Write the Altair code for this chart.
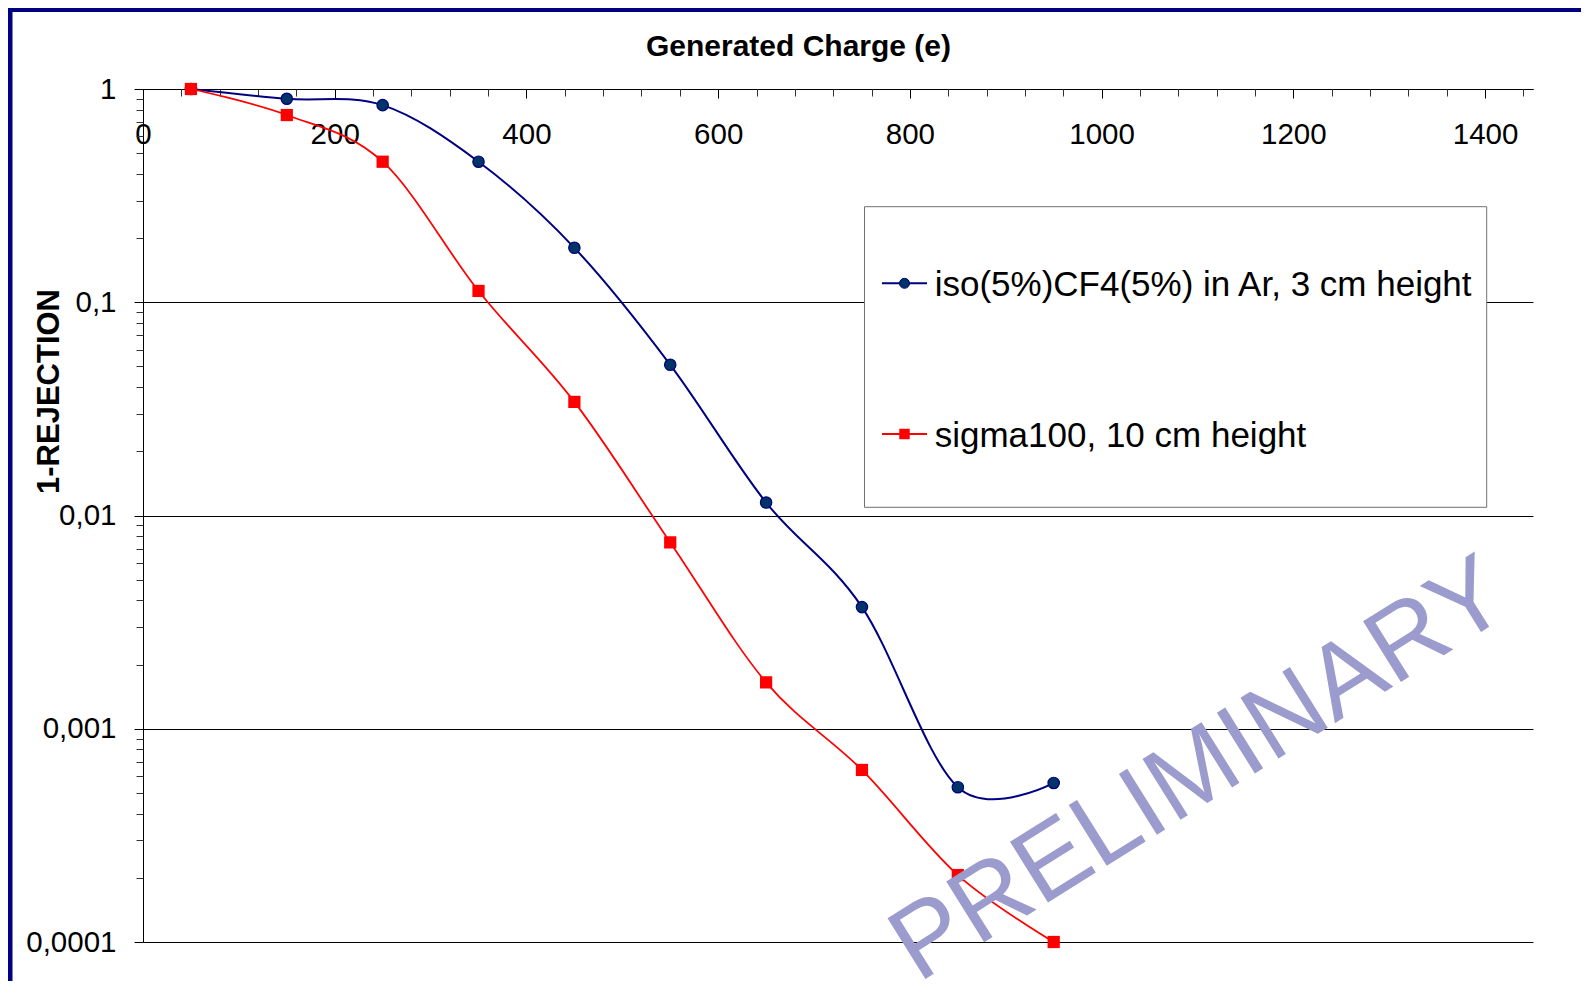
import altair as alt
import pandas as pd

# ---------------- data ----------------
charge = [50, 150, 250, 350, 450, 550, 650, 750, 850, 950]
iso_cf4 = [1.0, 0.90, 0.84, 0.456, 0.180, 0.0509, 0.0115, 0.00372, 0.000532, 0.000557]
sigma100 = [1.0, 0.755, 0.456, 0.113, 0.0341, 0.00748, 0.00165, 0.000641, 0.000206, 0.0001]
series_names = ["iso(5%)CF4(5%) in Ar, 3 cm height", "sigma100, 10 cm height"]
line_colors = ["#000080", "#FF0000"]
marker_fill = ["#003366", "#FF0000"]
marker_shapes = ["circle", "square"]

x_major_ticks = [0, 200, 400, 600, 800, 1000, 1200, 1400]
x_minor_ticks = [v for v in range(40, 1441, 40) if v % 200]
y_major_ticks = [1, 0.1, 0.01, 0.001, 0.0001]
y_tick_labels = ["1", "0,1", "0,01", "0,001", "0,0001"]
y_minor_ticks = [m * 10.0 ** e for e in range(-4, 0) for m in range(2, 10)]

x_title = "Generated Charge (e)"
y_title = "1-REJECTION"
watermark = "PRELIMINARY"

df = pd.DataFrame({
    "charge": charge * 2,
    "value": iso_cf4 + sigma100,
    "series": [series_names[0]] * len(charge) + [series_names[1]] * len(charge),
})

FONT = "Liberation Sans"
W, H = 1390, 853

x_scale = alt.Scale(domain=[0, 1450], nice=False, zero=False)
y_scale = alt.Scale(type="log", domain=[0.0001, 1], nice=False)

label_expr = "[" + ",".join("'%s'" % s for s in y_tick_labels) + "][indexof([" + \
    ",".join(repr(v) for v in y_major_ticks) + "], datum.value)]"

x_major_axis = alt.Axis(
    orient="bottom", offset=-H, values=x_major_ticks, tickSize=9, tickColor="black",
    tickWidth=1, domainColor="black", domainWidth=1, labelFontSize=29.5, labelFont=FONT,
    labelColor="black", labelBaseline="middle", labelPadding=36.5, labelFlush=False,
    labelOverlap=False, grid=False, title=None, format="d",
)
x_minor_axis = alt.Axis(
    orient="bottom", offset=-H, values=x_minor_ticks, tickSize=7, tickColor="#333333",
    tickWidth=1, domain=False, labels=False, grid=False, title=None,
)
y_major_axis = alt.Axis(
    orient="left", values=y_major_ticks, tickSize=9, tickColor="black", tickWidth=1,
    domainColor="black", domainWidth=1, labelFontSize=29.5, labelFont=FONT,
    labelColor="black", labelPadding=18, labelFlush=False, labelOverlap=False,
    labelExpr=label_expr, grid=True, gridColor="black", gridWidth=1, gridOpacity=1,
    title=y_title, titleFont=FONT, titleFontSize=31, titleFontWeight="bold",
    titleColor="black", titleAngle=270, titleX=-84.5, titleY=302, titleAlign="center",
    titleBaseline="alphabetic",
)
y_minor_axis = alt.Axis(
    orient="left", values=y_minor_ticks, tickSize=7, tickColor="#333333", tickWidth=1,
    domain=False, labels=False, grid=False, title=None,
)

layers = []
line_widths = [2, 1.75]
for i, name in enumerate(series_names):
    sub = alt.Chart(df).transform_filter(alt.datum.series == name)
    layers.append(
        sub.mark_line(interpolate="cardinal", tension=0, color=line_colors[i],
                      strokeWidth=line_widths[i]).encode(
            x=alt.X("charge:Q", scale=x_scale, axis=x_major_axis if i == 0 else None),
            y=alt.Y("value:Q", scale=y_scale, axis=y_major_axis if i == 0 else None),
        )
    )

for i, name in enumerate(series_names):
    sub = alt.Chart(df).transform_filter(alt.datum.series == name)
    if marker_shapes[i] == "circle":
        mk = sub.mark_point(shape="circle", filled=True, size=130, fill=marker_fill[i],
                            stroke=line_colors[i], strokeWidth=1.2, opacity=1)
    else:
        mk = sub.mark_point(shape="square", filled=True, size=150, fill=marker_fill[i],
                            strokeWidth=0, opacity=1)
    layers.append(
        mk.encode(
            x=alt.X("charge:Q", scale=x_scale, axis=x_minor_axis if i == 0 else None),
            y=alt.Y("value:Q", scale=y_scale, axis=y_minor_axis if i == 0 else None),
        )
    )

one = pd.DataFrame({"k": [0]})

# legend box
layers.append(
    alt.Chart(one).mark_rect(fill="white", stroke="#707070", strokeWidth=1).encode(
        x=alt.value(721.5), x2=alt.value(1343.7), y=alt.value(117.7), y2=alt.value(418.3)
    )
)
leg_y = [194.3, 345.0]
for i, name in enumerate(series_names):
    ld = pd.DataFrame({"label": [name]})
    layers.append(
        alt.Chart(ld).mark_rule(color=line_colors[i], strokeWidth=2).encode(
            x=alt.value(739), x2=alt.value(784), y=alt.value(leg_y[i])
        )
    )
    if marker_shapes[i] == "circle":
        lm = alt.Chart(ld).mark_point(shape="circle", filled=True, size=100, fill=marker_fill[i],
                                      stroke=line_colors[i], strokeWidth=1, opacity=1)
    else:
        lm = alt.Chart(ld).mark_point(shape="square", filled=True, size=110, fill=marker_fill[i],
                                      strokeWidth=0, opacity=1)
    layers.append(lm.encode(x=alt.value(761.5), y=alt.value(leg_y[i])))
    layers.append(
        alt.Chart(ld).mark_text(align="left", baseline="middle", fontSize=35, font=FONT,
                                color="black").encode(
            x=alt.value(791.7), y=alt.value(leg_y[i] + 1.5), text="label:N"
        )
    )

# watermark
layers.append(
    alt.Chart(one).mark_text(text=watermark, angle=328, fontSize=104, font=FONT,
                             color="#9B9BCD", align="center", baseline="middle").encode(
        x=alt.value(1057), y=alt.value(682)
    )
)

# chart title (top)
layers.append(
    alt.Chart(one).mark_text(text=x_title, fontSize=30, fontWeight="bold", font=FONT,
                             color="black", align="center", baseline="alphabetic").encode(
        x=alt.value(655.5), y=alt.value(-33.5)
    )
)

# outer frame
layers.append(
    alt.Chart(one).mark_rect(fillOpacity=0, stroke="#000080", strokeWidth=5.5).encode(
        x=alt.value(-133.25), x2=alt.value(3000), y=alt.value(-79.65), y2=alt.value(3000)
    )
)

chart = alt.layer(*layers).resolve_axis(x="independent", y="independent").properties(
    width=W, height=H,
    autosize=alt.AutoSizeParams(type="none"),
    padding={"left": 135, "top": 81, "right": 48, "bottom": 39},
).configure(font=FONT).configure_view(stroke=None)

chart.save("out.html", embed_options={"renderer": "svg", "actions": False})
